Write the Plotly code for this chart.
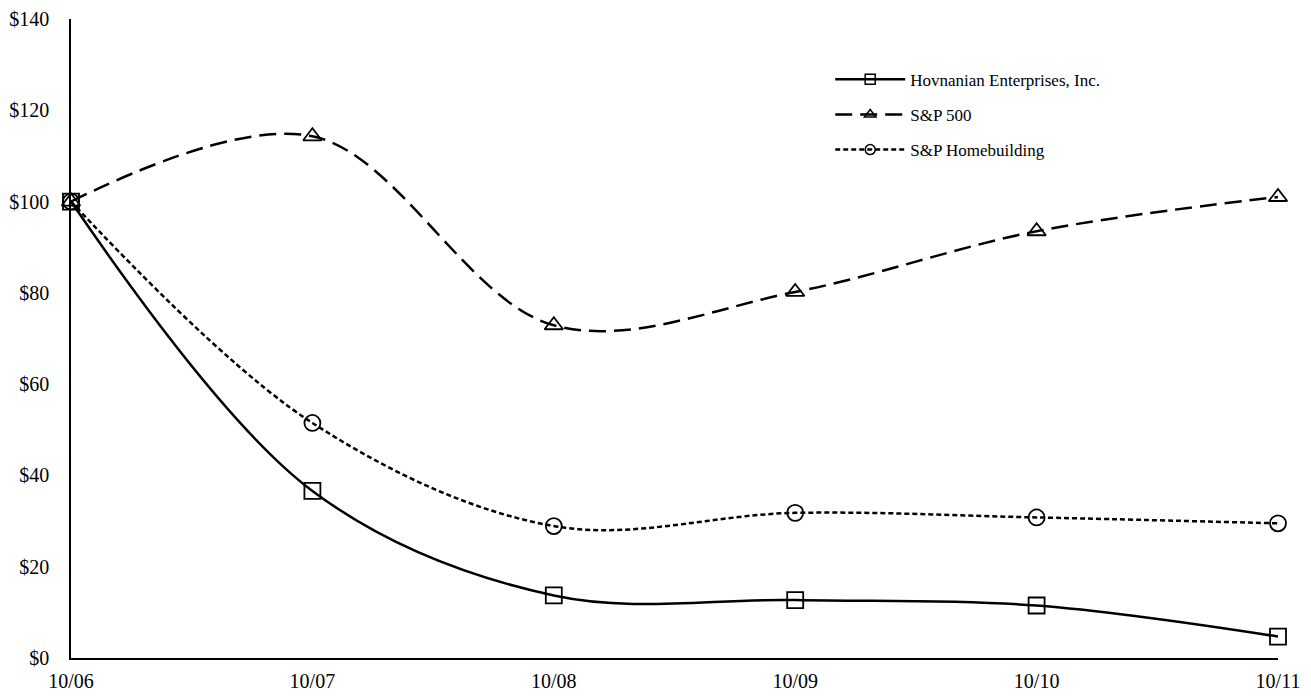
import plotly.graph_objects as go

categories = ["10/06", "10/07", "10/08", "10/09", "10/10", "10/11"]
hovnanian = [100, 36.6, 13.7, 12.7, 11.5, 4.7]
sp500 = [100, 114.3, 72.9, 80.2, 93.5, 101.0]
homebuilding = [100, 51.5, 28.9, 31.8, 30.8, 29.5]
y_ticks = [0, 20, 40, 60, 80, 100, 120, 140]
y_labels = ["$" + str(v) for v in y_ticks]

x = list(range(len(categories)))

fig = go.Figure()
series = [
    ("Hovnanian Enterprises, Inc.", hovnanian, "solid", "square-open"),
    ("S&P 500", sp500, "17px,8px", "triangle-up-open"),
    ("S&P Homebuilding", homebuilding, "5px,3px", "circle-open"),
]
for i, (name, vals, dash, sym) in enumerate(series):
    fig.add_trace(go.Scatter(
        x=x, y=vals, name=name, mode="lines+markers", showlegend=False,
        line=dict(color="black", width=2.5, dash=dash, shape="spline", smoothing=1),
        marker=dict(symbol=sym, size=16, color="black", line=dict(width=1.8, color="black")),
        cliponaxis=False,
    ))
    # legend entry (smaller marker, like the reference legend)
    fig.add_trace(go.Scatter(
        x=[None], y=[None], name=name, mode="lines+markers", legendgroup=str(i),
        line=dict(color="black", width=2.5, dash=dash),
        marker=dict(symbol=sym, size=10, color="black", line=dict(width=1.5, color="black")),
    ))

serif = "Times New Roman, Liberation Serif, Times, serif"
fig.update_layout(
    width=1311, height=696,
    margin=dict(l=63, r=41, t=11, b=46),
    paper_bgcolor="white", plot_bgcolor="white",
    font=dict(family=serif, size=17, color="black"),
    showlegend=True,
    legend=dict(x=0.629, y=0.933, xanchor="left", yanchor="top",
                bgcolor="rgba(0,0,0,0)", itemwidth=70, tracegroupgap=10,
                traceorder="grouped",
                font=dict(family=serif, size=17)),
    xaxis=dict(range=[0, 5], tickvals=x, ticktext=categories, showgrid=False,
               zeroline=False, showline=True, linecolor="black", linewidth=1.5,
               ticks="", automargin=False, ticklabelstandoff=4,
               tickfont=dict(family=serif, size=20)),
    yaxis=dict(range=[0, 140], tickvals=y_ticks, ticktext=y_labels, showgrid=False,
               zeroline=False, showline=True, linecolor="black", linewidth=1.5,
               ticks="", automargin=False, ticklabelstandoff=16,
               tickfont=dict(family=serif, size=20)),
)

fig.write_html("out.html")
